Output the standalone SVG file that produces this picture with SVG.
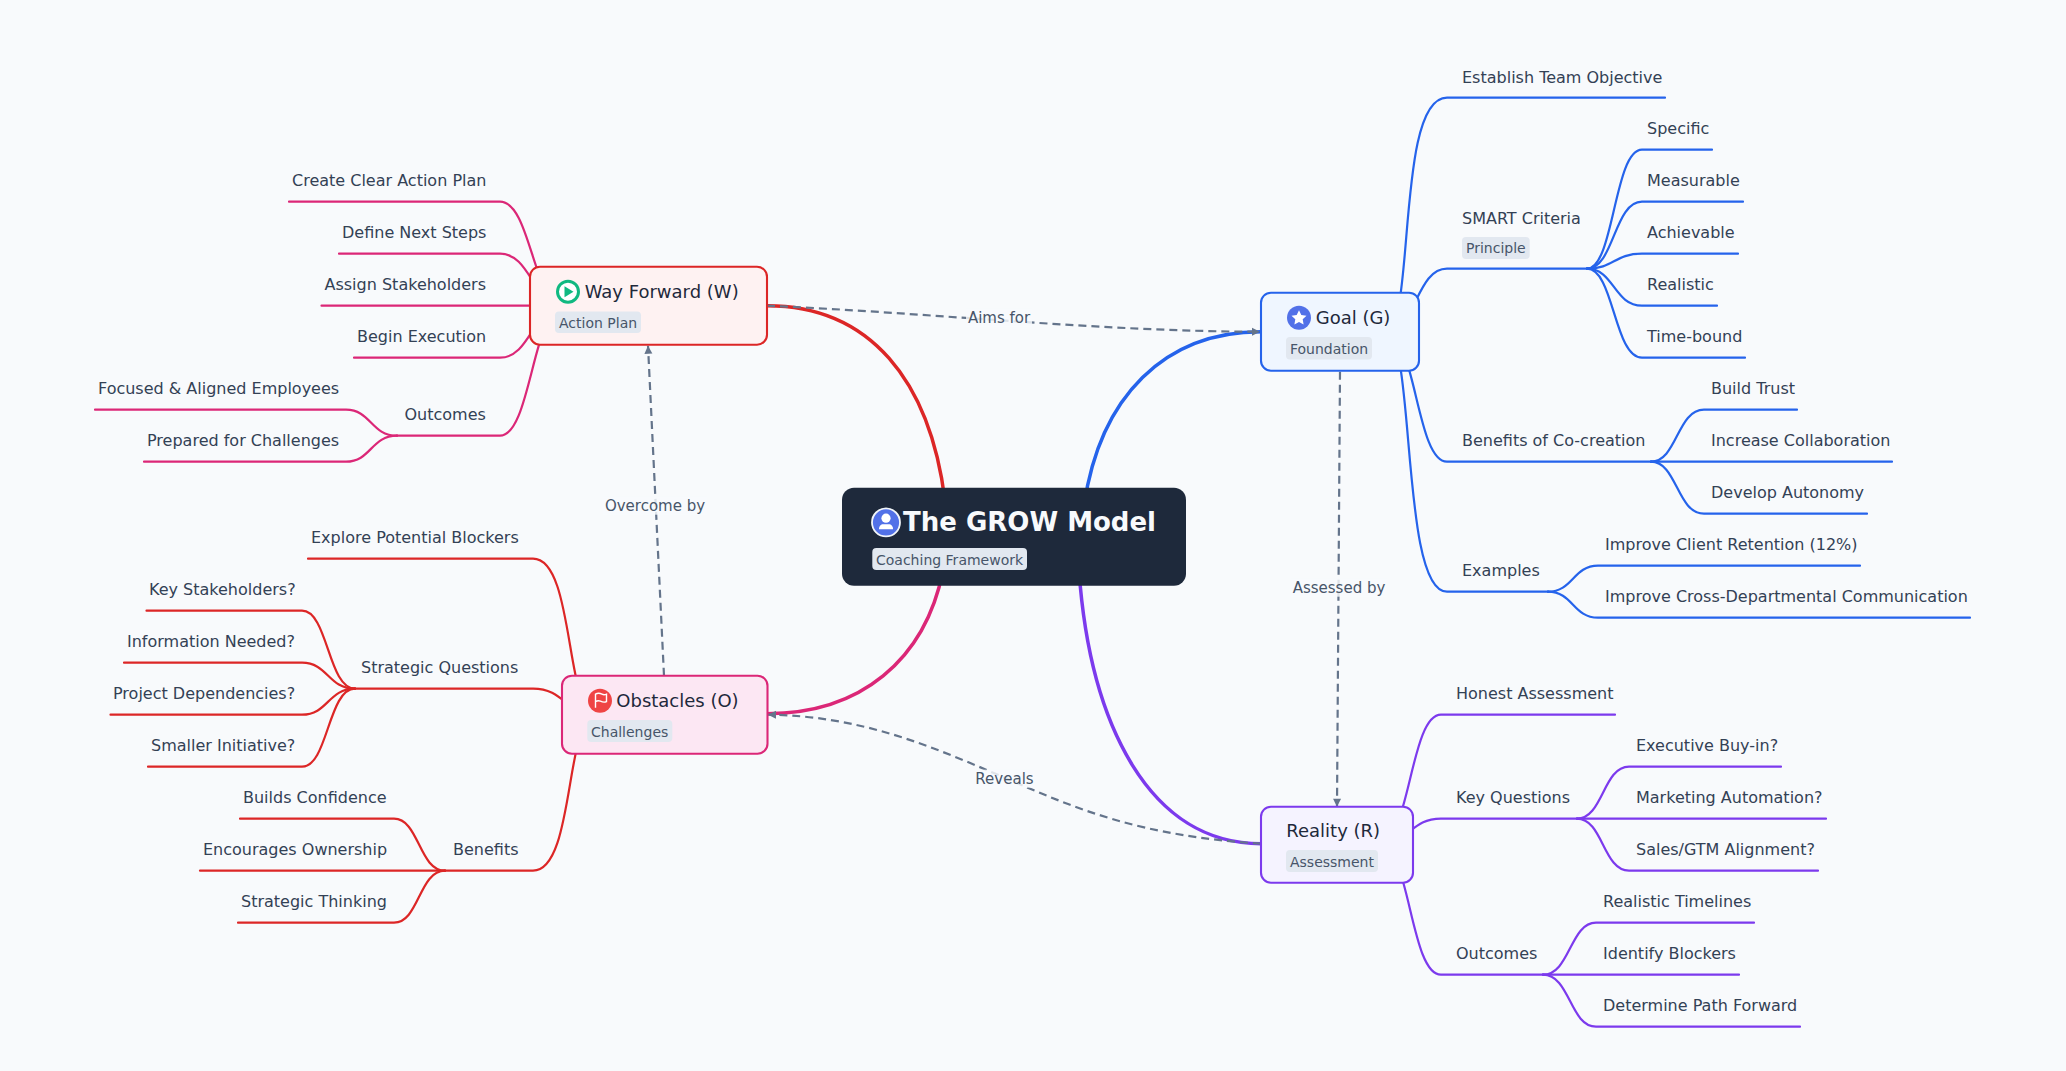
<svg xmlns="http://www.w3.org/2000/svg" width="2066" height="1071" viewBox="0 0 2066 1071">
<style>
text{font-family:"DejaVu Sans",Verdana,sans-serif;transform:translateY(-.5px)}
.bg{fill:#f8fafc}
path{fill:none}
.b{stroke-width:2.2;stroke-linecap:round}
.main{stroke-width:3.5}
.blue{stroke:#2563eb}.red{stroke:#dc2626}.pink{stroke:#db2777}.purple{stroke:#7c3aed}
.dash{stroke:#64748b;stroke-width:2.2;stroke-dasharray:8 5}
.el{fill:#475569;font-size:15px;text-anchor:middle}
.elbg{fill:#f8fafc;opacity:.82}
.t{fill:#334155;font-size:16px}
.title{fill:#1e293b;font-size:18px}
.tag{fill:#e2e8f0}
.tt{fill:#475569;font-size:14px}
.n{stroke-width:2.1}
</style>
<defs>
<marker id="arrow" markerUnits="userSpaceOnUse" markerWidth="10" markerHeight="10" refX="9" refY="5" orient="auto"><polygon points="1,1 9,5 1,9" fill="#64748b"/></marker>
</defs>
<rect class="bg" width="2066" height="1071"/>
<g transform="translate(0,0.7)">
<g id="connectors">
<g class="blue b">
<path d="M1385,331C1416,331 1395,97 1447,97H1665"/>
<path d="M1385,331C1416,331 1416,268 1447,268H1587"/>
<path d="M1385,331C1416,331 1416,461 1447,461H1651"/>
<path d="M1385,331C1416,331 1400,591 1447,591H1548"/>
<path d="M1587,268C1614,268 1614,149 1642,149H1712"/>
<path d="M1587,268C1614,268 1614,201 1642,201H1743"/>
<path d="M1587,268C1614,268 1614,253 1642,253H1738"/>
<path d="M1587,268C1614,268 1614,305 1642,305H1717"/>
<path d="M1587,268C1614,268 1614,357 1642,357H1745"/>
<path d="M1651,461C1677,461 1677,409 1704,409H1797"/>
<path d="M1651,461H1892"/>
<path d="M1651,461C1677,461 1677,513 1704,513H1867"/>
<path d="M1548,591C1573,591 1573,565 1598,565H1860"/>
<path d="M1548,591C1573,591 1573,617 1598,617H1970"/>
</g>
<g class="purple b">
<path d="M1379,843C1410,843 1410,714 1441,714H1615"/>
<path d="M1379,843C1410,843 1410,818 1441,818H1577"/>
<path d="M1379,843C1410,843 1410,974 1441,974H1543"/>
<path d="M1577,818C1603,818 1603,766 1629,766H1781"/>
<path d="M1577,818H1826"/>
<path d="M1577,818C1603,818 1603,870 1629,870H1818"/>
<path d="M1543,974C1570,974 1570,922 1596,922H1754"/>
<path d="M1543,974H1739"/>
<path d="M1543,974C1570,974 1570,1026 1596,1026H1800"/>
</g>
<g class="pink b">
<path d="M564,305C533,305 531,201 500,201H289"/>
<path d="M564,305C533,305 531,253 500,253H339"/>
<path d="M564,305H321.5"/>
<path d="M564,305C533,305 531,357 500,357H354"/>
<path d="M564,305C533,305 531,435 500,435H397"/>
<path d="M397,435C371,435 371,409 346,409H95"/>
<path d="M397,435C371,435 371,461 346,461H144"/>
</g>
<g class="red b">
<path d="M596,714C565,714 575,558 533,558H308"/>
<path d="M596,714C565,714 565,688 533,688H355"/>
<path d="M596,714C565,714 575,870 533,870H445"/>
<path d="M355,688C328,688 328,610 302,610H146.5"/>
<path d="M355,688C328,688 328,662 302,662H124"/>
<path d="M355,688C328,688 328,714 302,714H110.5"/>
<path d="M355,688C328,688 328,766 302,766H148"/>
<path d="M445,870C419,870 419,818 394,818H240"/>
<path d="M445,870H200"/>
<path d="M445,870C419,870 419,922 394,922H238"/>
</g>
<path class="blue main" d="M1084,505C1100,395 1165,331 1261,331"/>
<path class="purple main" d="M1079,570C1090,725 1150,843 1261,843"/>
<path class="red main" d="M767,305C870,305 930,380 945,500"/>
<path class="pink main" d="M767,713C860,713 925,660 943,570"/>
<path class="dash" marker-end="url(#arrow)" d="M767,305C930,312 1100,331 1260,331"/>
<path class="dash" marker-end="url(#arrow)" d="M1340,371L1337,806"/>
<path class="dash" marker-end="url(#arrow)" d="M664,675L648,345"/>
<path class="dash" marker-end="url(#arrow)" d="M1261,843C1140,835 1080,810 1000,775C930,745 860,715 768,714"/>
</g>
<g id="edge-labels">
<rect class="elbg" x="966" y="308" width="66" height="18"/><text class="el" x="999" y="322.500">Aims for</text>
<rect class="elbg" x="1291" y="578" width="96" height="18"/><text class="el" x="1339" y="592.500">Assessed by</text>
<rect class="elbg" x="603" y="496" width="104" height="18"/><text class="el" x="655" y="510.500">Overcome by</text>
<rect class="elbg" x="975" y="769" width="59" height="18"/><text class="el" x="1004.5" y="783.500">Reveals</text>
</g>
<g id="root">
<rect x="842" y="487" width="344" height="98" rx="12" fill="#1e293b"/>
<circle cx="886" cy="521.7" r="14" fill="#5271e8" stroke="#f1f5f9" stroke-width="1.8"/>
<circle cx="886" cy="517.5" r="4.6" fill="#fff"/><path d="M879,528.5c0,-3.5 2,-5 4,-5h6c2,0 4,1.500 4,5z" style="fill:#fff"/>
<text x="903" y="531" fill="#f8fafc" font-size="26" font-weight="700">The GROW Model</text>
<rect class="tag" x="872.300" y="547.300" width="154.700" height="22" rx="4"/>
<text class="tt" x="876" y="564.500">Coaching Framework</text>
</g>
<g id="goal">
<rect class="n blue" x="1261" y="292" width="158" height="78" rx="10" fill="#eff6ff"/>
<circle cx="1299" cy="317" r="12" fill="#5271e8"/>
<polygon points="1299,309.500 1301.300,314.300 1306.500,315 1302.700,318.600 1303.600,323.800 1299,321.300 1294.400,323.800 1295.300,318.600 1291.500,315 1296.700,314.300" fill="#fff"/>
<text class="title" x="1315.700" y="324">Goal (G)</text>
<rect class="tag" x="1286" y="336.300" width="86" height="22.400" rx="4"/>
<text class="tt" x="1290" y="353.500">Foundation</text>
</g>
<g id="way-forward">
<rect class="n red" x="530" y="266" width="237" height="78" rx="10" fill="#fef2f2"/>
<circle cx="568" cy="291" r="10.500" fill="#fff" stroke="#10b981" stroke-width="3"/>
<polygon points="564.500,285.500 573.500,291 564.500,296.500" fill="#10b981"/>
<text class="title" x="584.700" y="298">Way Forward (W)</text>
<rect class="tag" x="555" y="310.700" width="86" height="21.600" rx="4"/>
<text class="tt" x="559" y="327.500">Action Plan</text>
</g>
<g id="obstacles">
<rect class="n pink" x="562" y="675" width="205.500" height="78" rx="10" fill="#fce7f3"/>
<circle cx="600" cy="700" r="12" fill="#ef4444"/>
<path d="M595.500,707V693.500C598,692 600,692.500 602,693.500C604,694.500 605,694 606.500,693.500V701C604,702 602.500,701.500 600.500,700.500C598.500,699.800 597,700 595.500,701" stroke="#fff" stroke-width="1.400"/>
<text class="title" x="616.300" y="707">Obstacles (O)</text>
<rect class="tag" x="587.300" y="719.300" width="85" height="22" rx="4"/>
<text class="tt" x="591" y="736.500">Challenges</text>
</g>
<g id="reality">
<rect class="n purple" x="1261" y="806" width="152" height="76" rx="10" fill="#f5f3ff"/>
<text class="title" x="1286.300" y="837.300">Reality (R)</text>
<rect class="tag" x="1286" y="849.300" width="92" height="22" rx="4"/>
<text class="tt" x="1290" y="866.500">Assessment</text>
</g>
<g id="goal-leaves">
<g id="n-establish"><text class="t" x="1462" y="83">Establish Team Objective</text></g>
<g id="n-smart"><text class="t" x="1462" y="224">SMART Criteria</text><rect class="tag" x="1462" y="236.300" width="67.700" height="22" rx="4"/><text class="tt" x="1466" y="253">Principle</text></g>
<g id="n-specific"><text class="t" x="1647" y="134">Specific</text></g>
<g id="n-measurable"><text class="t" x="1647" y="186">Measurable</text></g>
<g id="n-achievable"><text class="t" x="1647" y="238">Achievable</text></g>
<g id="n-realistic"><text class="t" x="1647" y="290">Realistic</text></g>
<g id="n-timebound"><text class="t" x="1647" y="342">Time-bound</text></g>
<g id="n-benefits-co"><text class="t" x="1462" y="446">Benefits of Co-creation</text></g>
<g id="n-trust"><text class="t" x="1711" y="394">Build Trust</text></g>
<g id="n-collab"><text class="t" x="1711" y="446">Increase Collaboration</text></g>
<g id="n-autonomy"><text class="t" x="1711" y="498">Develop Autonomy</text></g>
<g id="n-examples"><text class="t" x="1462" y="576">Examples</text></g>
<g id="n-retention"><text class="t" x="1605" y="550">Improve Client Retention (12%)</text></g>
<g id="n-cross"><text class="t" x="1605" y="602">Improve Cross-Departmental Communication</text></g>
</g>
<g id="reality-leaves">
<g id="n-honest"><text class="t" x="1456" y="699">Honest Assessment</text></g>
<g id="n-keyq"><text class="t" x="1456" y="803">Key Questions</text></g>
<g id="n-exec"><text class="t" x="1636" y="751">Executive Buy-in?</text></g>
<g id="n-marketing"><text class="t" x="1636" y="803">Marketing Automation?</text></g>
<g id="n-sales"><text class="t" x="1636" y="855">Sales/GTM Alignment?</text></g>
<g id="n-outcomes-r"><text class="t" x="1456" y="959">Outcomes</text></g>
<g id="n-timelines"><text class="t" x="1603" y="907">Realistic Timelines</text></g>
<g id="n-blockers"><text class="t" x="1603" y="959">Identify Blockers</text></g>
<g id="n-path"><text class="t" x="1603" y="1011">Determine Path Forward</text></g>
</g>
<g id="way-leaves">
<g id="n-create"><text class="t" x="292" y="186">Create Clear Action Plan</text></g>
<g id="n-define"><text class="t" x="342" y="238">Define Next Steps</text></g>
<g id="n-assign"><text class="t" x="324.500" y="290">Assign Stakeholders</text></g>
<g id="n-begin"><text class="t" x="357" y="342">Begin Execution</text></g>
<g id="n-outcomes-w"><text class="t" x="404.500" y="420">Outcomes</text></g>
<g id="n-focused"><text class="t" x="98" y="394">Focused &amp; Aligned Employees</text></g>
<g id="n-prepared"><text class="t" x="147" y="446">Prepared for Challenges</text></g>
</g>
<g id="obstacle-leaves">
<g id="n-explore"><text class="t" x="311" y="543">Explore Potential Blockers</text></g>
<g id="n-strategic"><text class="t" x="361" y="673">Strategic Questions</text></g>
<g id="n-keystake"><text class="t" x="149" y="595">Key Stakeholders?</text></g>
<g id="n-info"><text class="t" x="127" y="647">Information Needed?</text></g>
<g id="n-deps"><text class="t" x="113" y="699">Project Dependencies?</text></g>
<g id="n-smaller"><text class="t" x="151" y="751">Smaller Initiative?</text></g>
<g id="n-benefits"><text class="t" x="453" y="855">Benefits</text></g>
<g id="n-confidence"><text class="t" x="243" y="803">Builds Confidence</text></g>
<g id="n-ownership"><text class="t" x="203" y="855">Encourages Ownership</text></g>
<g id="n-thinking"><text class="t" x="241" y="907">Strategic Thinking</text></g>
</g>
</g>
</svg>
